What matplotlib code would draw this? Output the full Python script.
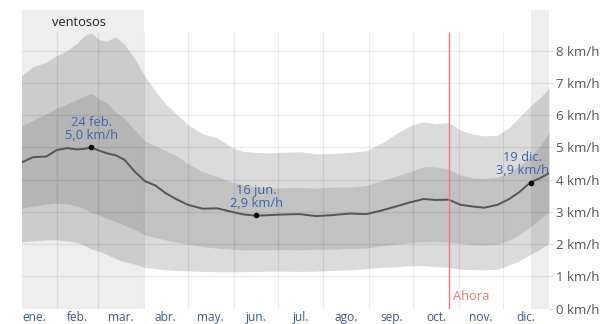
import numpy as np
import matplotlib
matplotlib.use('Agg')
import matplotlib.pyplot as plt

plt.rcParams['font.family'] = ['Open Sans', 'DejaVu Sans']

# day of year (0 = 1 ene.)
dias = [7, 15, 24, 31, 38, 45, 50, 54.5, 60, 65, 71, 77, 84, 91, 98, 105, 112, 120,
        130, 140, 150, 158, 166.5, 175, 185, 196, 207, 218, 230, 241, 252, 262, 271,
        280, 288, 297, 305, 313, 321, 330, 338, 345, 352.5, 359, 365]

# average wind speed (km/h)
media = [4.53, 4.70, 4.72, 4.92, 4.98, 4.94, 4.96, 5.00, 4.90, 4.82, 4.76, 4.62, 4.25,
         3.95, 3.82, 3.58, 3.40, 3.22, 3.10, 3.11, 3.00, 2.92, 2.88, 2.90, 2.92, 2.93,
         2.87, 2.90, 2.95, 2.93, 3.05, 3.18, 3.30, 3.40, 3.37, 3.38, 3.22, 3.17, 3.13,
         3.22, 3.40, 3.62, 3.92, 4.05, 4.20]

# percentile bands
p90 = [7.22, 7.51, 7.65, 7.85, 8.00, 8.25, 8.48, 8.56, 8.35, 8.30, 8.44, 8.20, 7.75,
       7.20, 6.75, 6.35, 6.05, 5.72, 5.42, 5.30, 5.00, 4.88, 4.85, 4.83, 4.85, 4.87,
       4.80, 4.82, 4.85, 4.90, 5.15, 5.45, 5.68, 5.80, 5.74, 5.78, 5.54, 5.42, 5.36,
       5.38, 5.62, 5.94, 6.30, 6.55, 6.85]
p75 = [5.65, 5.85, 6.05, 6.22, 6.35, 6.50, 6.60, 6.68, 6.50, 6.38, 6.10, 5.90, 5.55,
       5.20, 5.05, 4.90, 4.75, 4.50, 4.25, 4.10, 3.92, 3.85, 3.78, 3.74, 3.75, 3.76,
       3.74, 3.77, 3.77, 3.82, 3.98, 4.12, 4.25, 4.40, 4.40, 4.32, 4.15, 4.06, 4.04,
       4.08, 4.20, 4.44, 4.72, 5.05, 5.45]
p25 = [3.11, 3.18, 3.24, 3.27, 3.25, 3.18, 3.10, 2.98, 2.90, 2.80, 2.70, 2.58, 2.45,
       2.28, 2.20, 2.13, 2.06, 2.00, 1.92, 1.88, 1.84, 1.82, 1.82, 1.82, 1.83, 1.82,
       1.84, 1.84, 1.86, 1.88, 1.95, 2.00, 2.05, 2.07, 2.07, 2.06, 2.03, 1.98, 1.97,
       2.00, 2.12, 2.30, 2.55, 2.78, 3.00]
p10 = [2.07, 2.10, 2.13, 2.13, 2.10, 2.05, 1.95, 1.85, 1.78, 1.68, 1.55, 1.45, 1.38,
       1.27, 1.24, 1.20, 1.18, 1.17, 1.15, 1.14, 1.14, 1.14, 1.15, 1.16, 1.16, 1.15,
       1.16, 1.18, 1.20, 1.24, 1.28, 1.30, 1.33, 1.33, 1.30, 1.28, 1.22, 1.21, 1.20,
       1.22, 1.35, 1.48, 1.68, 1.85, 2.02]

# highlighted days
marca_dias = [54.5, 166.5, 352.5]
marca_vals = [5.0, 2.9, 3.9]
marca_textos = ['24 feb.\n5,0 km/h', '16 jun.\n2,9 km/h', '19 dic.\n3,9 km/h']

meses = ['ene.', 'feb.', 'mar.', 'abr.', 'may.', 'jun.', 'jul.', 'ago.', 'sep.',
         'oct.', 'nov.', 'dic.']
inicio_mes = [0, 31, 59, 90, 120, 151, 181, 212, 243, 273, 304, 334, 365]
ventosos = [(0, 90), (352.5, 365)]
ahora = 297.2

fig = plt.figure(figsize=(6.11, 3.24), dpi=100)
ax = fig.add_axes([22 / 611, 15.5 / 324, 527 / 611, 298.5 / 324])
ax.set_xlim(7.5, 365)
ax.set_ylim(0, 9.27)

for a, b in ventosos:
    ax.axvspan(a, b, color='#eeeeee', lw=0, zorder=0)

ax.fill_between(dias, p10, p90, color='black', alpha=0.14, lw=0, zorder=1)
ax.fill_between(dias, p25, p75, color='black', alpha=0.11, lw=0, zorder=1)

# grid
for v in range(1, 9):
    ax.axhline(v, color='black', alpha=0.08, lw=0.9, zorder=2)
ax.vlines(inicio_mes[1:-1], 0, 8.6, color='black', alpha=0.08, lw=0.9, zorder=2)

ax.plot(dias, media, color='#555555', lw=1.4, zorder=3)
ax.plot(marca_dias, marca_vals, 'o', color='black', ms=3, zorder=4)

for d, v, t in zip(marca_dias, marca_vals, marca_textos):
    dx = -6 if d > 340 else 0
    ax.annotate(t, (d, v), xytext=(dx, 4), textcoords='offset points', ha='center',
                va='bottom', fontsize=9.3, color='#3d62aa', linespacing=1.0, zorder=5)

ax.vlines(ahora, 0, 8.6, color='#ec7c7c', lw=1.0, zorder=4)
ax.text(ahora + 2.5, 0.36, 'Ahora', color='#ec7c7c', fontsize=9.3, va='center', ha='left')

ax.text(46, 8.87, 'ventosos', color='#222222', fontsize=9.3, ha='center', va='center')

for s in ax.spines.values():
    s.set_visible(False)

ax.yaxis.tick_right()
ax.set_yticks(range(0, 9))
ax.set_yticklabels([f'{v} km/h' for v in range(0, 9)])
ax.tick_params(axis='y', length=3, color='#dddddd', pad=2, labelsize=9.5, labelcolor='#555555')

centros = [(inicio_mes[i] + inicio_mes[i + 1]) / 2 for i in range(12)]
ax.set_xticks(centros)
ax.set_xticklabels(meses)
ax.tick_params(axis='x', length=0, pad=1.5, labelsize=8.6, labelcolor='#3d5a8c')

fig.savefig('out.png', dpi=100)
